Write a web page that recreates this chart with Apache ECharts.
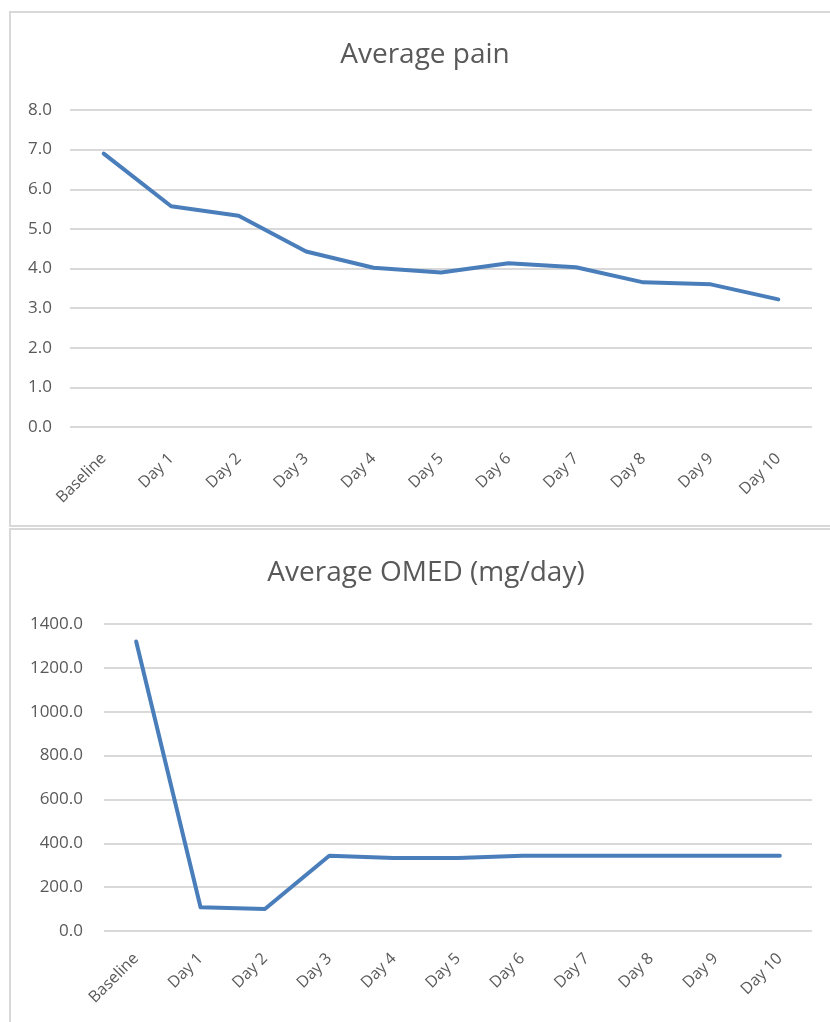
<!DOCTYPE html>
<html>
<head>
<meta charset="utf-8">
<script src="https://cdn.jsdelivr.net/npm/echarts@6/dist/echarts.min.js"></script>
<style>
html,body{margin:0;padding:0;background:#fff;}
#c{width:830px;height:1022px;}
</style>
</head>
<body>
<div id="c"></div>
<script>
const categories = ['Baseline','Day 1','Day 2','Day 3','Day 4','Day 5','Day 6','Day 7','Day 8','Day 9','Day 10'];
const painTitle = 'Average pain';
const painValues = [6.9, 5.57, 5.33, 4.43, 4.02, 3.9, 4.13, 4.03, 3.65, 3.6, 3.22];
const omedTitle = 'Average OMED (mg/day)';
const omedValues = [1320, 108, 100, 343, 333, 333, 343, 343, 343, 343, 343];

const FONT = 'Open Sans';
const TXT = '#595959';
const GRID = '#d9d9d9';
const LINE = '#4a7ebb';

const chart = echarts.init(document.getElementById('c'), null, {renderer:'canvas'});

function xAxis(idx, margin){
  return {
    type:'category', gridIndex:idx, data:categories, boundaryGap:true,
    axisLine:{show:false}, axisTick:{show:false},
    axisLabel:{rotate:45, color:TXT, fontFamily:FONT, fontSize:16, margin:margin, interval:0}
  };
}
function yAxis(idx, max, interval, margin){
  return {
    type:'value', gridIndex:idx, min:0, max:max, interval:interval,
    axisLine:{show:false}, axisTick:{show:false},
    splitLine:{lineStyle:{color:GRID, width:2}},
    axisLabel:{color:TXT, fontFamily:FONT, fontSize:17, margin:margin,
      formatter:v=>v.toFixed(1)}
  };
}

chart.setOption({
  animation:false,
  backgroundColor:'#fff',
  graphic:[
    {type:'rect', shape:{x:10,y:12,width:840,height:514}, style:{fill:'none', stroke:GRID, lineWidth:2}, z:-1},
    {type:'rect', shape:{x:10,y:529,width:840,height:510}, style:{fill:'none', stroke:GRID, lineWidth:2}, z:-1}
  ],
  title:[
    {text:painTitle, left:420, top:36, textAlign:'center',
     textStyle:{color:TXT, fontFamily:FONT, fontSize:28, fontWeight:'normal'}},
    {text:omedTitle, left:421, top:554, textAlign:'center',
     textStyle:{color:TXT, fontFamily:FONT, fontSize:28, fontWeight:'normal'}}
  ],
  grid:[
    {left:70, right:18, top:110, height:317, containLabel:false},
    {left:104, right:18, top:624, height:307, containLabel:false}
  ],
  xAxis:[xAxis(0, 29), xAxis(1, 25)],
  yAxis:[yAxis(0, 8, 1, 18), yAxis(1, 1400, 200, 21)],
  series:[
    {type:'line', xAxisIndex:0, yAxisIndex:0, data:painValues, showSymbol:false, symbol:'none',
     lineStyle:{color:LINE, width:4, cap:'round', join:'round'}},
    {type:'line', xAxisIndex:1, yAxisIndex:1, data:omedValues, showSymbol:false, symbol:'none',
     lineStyle:{color:LINE, width:4, cap:'round', join:'round'}}
  ]
});
</script>
</body>
</html>
